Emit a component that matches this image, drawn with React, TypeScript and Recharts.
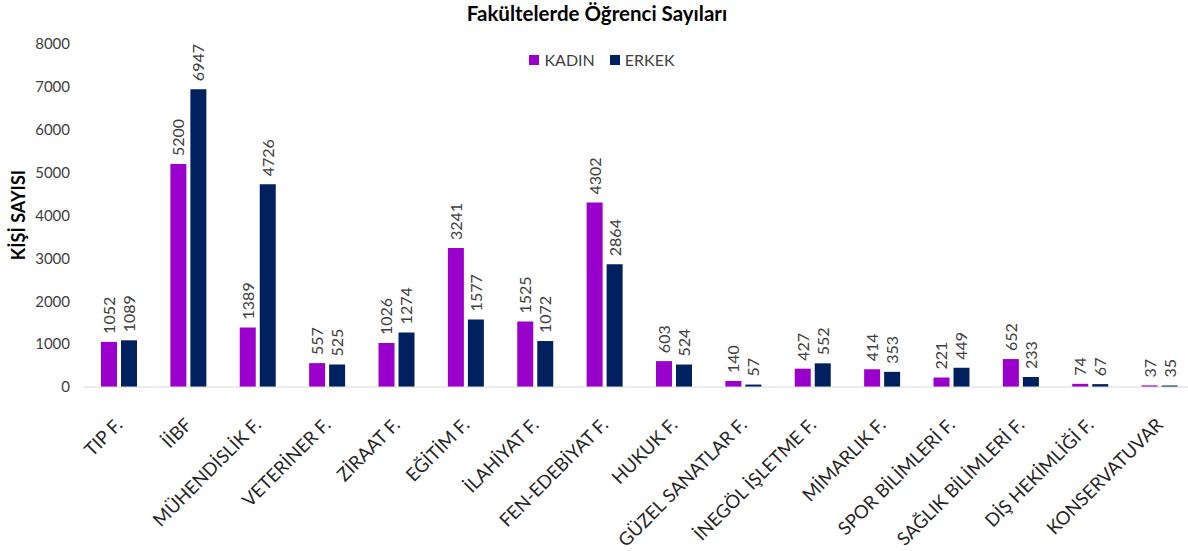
import React from "react";
import { BarChart, Bar, XAxis, YAxis, LabelList } from "recharts";

const categories = [
  "TIP F.", "İİBF", "MÜHENDİSLİK F.", "VETERİNER F.", "ZİRAAT F.", "EĞİTİM F.",
  "İLAHİYAT F.", "FEN-EDEBİYAT F.", "HUKUK F.", "GÜZEL SANATLAR F.",
  "İNEGÖL İŞLETME F.", "MİMARLIK F.", "SPOR BİLİMLERİ F.", "SAĞLIK BİLİMLERİ F.",
  "DİŞ HEKİMLİĞİ F.", "KONSERVATUVAR",
];
const kadin = [1052, 5200, 1389, 557, 1026, 3241, 1525, 4302, 603, 140, 427, 414, 221, 652, 74, 37];
const erkek = [1089, 6947, 4726, 525, 1274, 1577, 1072, 2864, 524, 57, 552, 353, 449, 233, 67, 35];
const yTicks = [0, 1000, 2000, 3000, 4000, 5000, 6000, 7000, 8000];
const seriesNames = ["KADIN", "ERKEK"];
const seriesColors = ["#9900CC", "#002060"];

const data = categories.map((name, i) => ({ name, KADIN: kadin[i], ERKEK: erkek[i] }));

const FONT = "Lato, 'Open Sans', sans-serif";

const XTick = (props: any) => {
  const { x, y, payload } = props;
  const ax = x + 5;
  const ay = y + 31;
  return (
    <text
      x={ax}
      y={ay}
      transform={`rotate(-45, ${ax}, ${ay})`}
      textAnchor="end"
      fontSize={18.5}
      fontFamily={FONT}
      fill="#262626"
    >
      {payload.value}
    </text>
  );
};

const ValueLabel = (props: any) => {
  const { x, y, width, value } = props;
  const cx = x + width / 2 + 6;
  const cy = y - 8;
  return (
    <text
      x={cx}
      y={cy}
      transform={`rotate(-90, ${cx}, ${cy})`}
      textAnchor="start"
      fontSize={16}
      fontFamily={FONT}
      fill="#404040"
    >
      {value}
    </text>
  );
};

export default function App() {
  return (
    <div style={{ position: "absolute", left: 0, top: 0, width: 1188, height: 551, overflow: "hidden", background: "#fff" }}>
      <div
        style={{
          position: "absolute",
          top: 1,
          left: 0,
          width: 1194,
          textAlign: "center",
          fontFamily: FONT,
          fontWeight: 700,
          fontSize: 20.5,
          color: "#000",
          zIndex: 2,
        }}
      >
        Fakültelerde Öğrenci Sayıları
      </div>
      <div
        style={{
          position: "absolute",
          top: 50,
          left: 0,
          width: 1204,
          display: "flex",
          justifyContent: "center",
          gap: 15,
          fontFamily: FONT,
          fontSize: 16,
          color: "#404040",
          zIndex: 2,
        }}
      >
        {seriesNames.map((n, i) => (
          <div key={n} style={{ display: "flex", alignItems: "center" }}>
            <span style={{ width: 10, height: 10, background: seriesColors[i], display: "inline-block", marginRight: 5 }} />
            <span>{n}</span>
          </div>
        ))}
      </div>
      <div
        style={{
          position: "absolute",
          left: 18,
          top: 215,
          transform: "translate(-50%, -50%) rotate(-90deg)",
          fontFamily: FONT,
          fontWeight: 700,
          fontSize: 18,
          color: "#000",
          whiteSpace: "nowrap",
          zIndex: 2,
        }}
      >
        KİŞİ SAYISI
      </div>
      <BarChart
        width={1194}
        height={551}
        data={data}
        margin={{ top: 44, right: 0, bottom: 0, left: 0 }}
        barSize={16}
        barGap={4}
      >
        <XAxis
          dataKey="name"
          interval={0}
          height={164}
          tick={<XTick />}
          tickLine={false}
          axisLine={{ stroke: "#D9D9D9" }}
        />
        <YAxis
          width={84}
          domain={[0, 8000]}
          ticks={yTicks}
          axisLine={false}
          tickLine={false}
          tickSize={0}
          tickMargin={14}
          tick={{ fontSize: 15, fontFamily: FONT, fill: "#404040" }}
        />
        <Bar dataKey="KADIN" fill={seriesColors[0]} isAnimationActive={false}>
          <LabelList dataKey="KADIN" content={<ValueLabel />} />
        </Bar>
        <Bar dataKey="ERKEK" fill={seriesColors[1]} isAnimationActive={false}>
          <LabelList dataKey="ERKEK" content={<ValueLabel />} />
        </Bar>
      </BarChart>
    </div>
  );
}
